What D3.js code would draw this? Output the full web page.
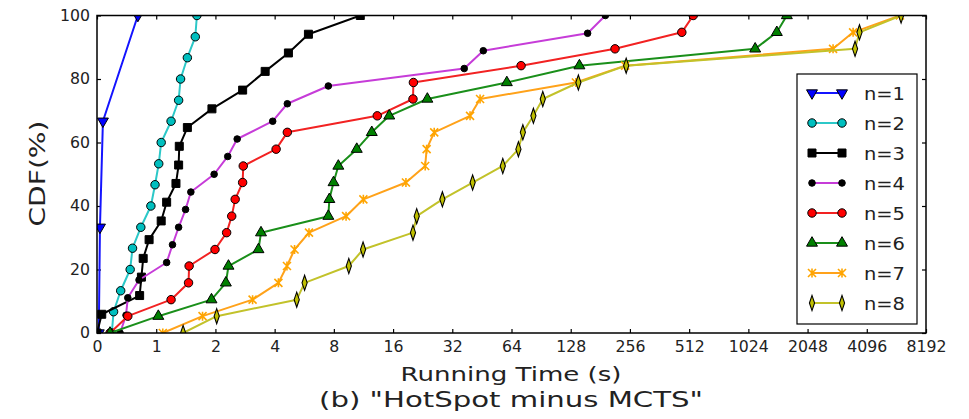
<!DOCTYPE html>
<html>
<head>
<meta charset="utf-8">
<script src="https://cdn.jsdelivr.net/npm/d3@7"></script>
<style>
  body { margin: 0; background: #fff; }
  text { font-family: "DejaVu Sans", sans-serif; }
</style>
</head>
<body>
<div id="chart"></div>
<script>
// tick labels
const xTicks = [0, 1, 2, 4, 8, 16, 32, 64, 128, 256, 512, 1024, 2048, 4096, 8192];
const yTicks = [0, 20, 40, 60, 80, 100];

const names = ["n=1", "n=2", "n=3", "n=4", "n=5", "n=6", "n=7", "n=8"];

// running time (s) and CDF (%) for every series
const time1 = [0.03, 0.05, 0.10, 0.69];
const cdf1 = [0, 33.3, 66.7, 100];

const time2 = [0.25, 0.28, 0.40, 0.56, 0.60, 0.74, 0.91, 0.98, 1.03, 1.06, 1.19, 1.30, 1.33, 1.44, 1.58, 1.61];
const cdf2 = [0, 6.7, 13.3, 20, 26.7, 33.3, 40, 46.7, 53.3, 60, 66.7, 73.3, 80, 86.7, 93.3, 100];

const time3 = [0.00, 0.08, 0.72, 0.75, 0.78, 0.88, 1.06, 1.13, 1.26, 1.30, 1.31, 1.44, 1.92, 2.75, 3.58, 4.70, 5.94, 10.9];
const cdf3 = [0, 5.9, 11.8, 17.6, 23.5, 29.4, 35.3, 41.2, 47.1, 52.9, 58.8, 64.7, 70.6, 76.5, 82.4, 88.2, 94.1, 100];

const time4 = [0.39, 0.49, 0.52, 0.71, 1.13, 1.21, 1.30, 1.41, 1.50, 1.97, 2.31, 2.58, 3.91, 4.64, 7.50, 36.8, 46.0, 156, 192];
const cdf4 = [0, 5.6, 11.1, 16.7, 22.2, 27.8, 33.3, 38.9, 44.4, 50, 55.6, 61.1, 66.7, 72.2, 77.8, 83.3, 88.9, 94.4, 100];

const time5 = [0.22, 0.52, 1.19, 1.46, 1.47, 1.99, 2.28, 2.42, 2.52, 2.75, 2.77, 4.07, 4.64, 13.3, 20.2, 20.3, 71.6, 215, 470, 537];
const cdf5 = [0, 5.3, 10.5, 15.8, 21.1, 26.3, 31.6, 36.8, 42.1, 47.4, 52.6, 57.9, 63.2, 68.4, 73.7, 78.9, 84.2, 89.5, 94.7, 100];

const time6 = [0.22, 1.025, 1.91, 2.26, 2.33, 3.31, 3.41, 7.50, 7.59, 7.97, 8.43, 10.46, 12.47, 15.3, 23.9, 60.6, 141.7, 1109, 1429, 1607];
const cdf6 = [0, 5.3, 10.5, 15.8, 21.1, 26.3, 31.6, 36.8, 42.1, 47.4, 52.6, 57.9, 63.2, 68.4, 73.7, 78.9, 84.2, 89.5, 94.7, 100];

const time7 = [1.08, 1.72, 3.09, 4.18, 4.62, 5.05, 5.98, 9.23, 11.3, 18.6, 23.3, 23.7, 25.9, 39.4, 44.3, 136, 242, 2760, 3490, 6040];
const cdf7 = [0, 5.3, 10.5, 15.8, 21.1, 26.3, 31.6, 36.8, 42.1, 47.4, 52.6, 57.9, 63.2, 68.4, 73.7, 78.9, 84.2, 89.5, 94.7, 100];

const time8 = [1.37, 2.03, 5.18, 5.68, 9.53, 11.26, 20.2, 21.1, 28.5, 40.6, 57.8, 69.4, 73.1, 82.7, 92.3, 140, 245, 3570, 3760, 6120];
const cdf8 = [0, 5.3, 10.5, 15.8, 21.1, 26.3, 31.6, 36.8, 42.1, 47.4, 52.6, 57.9, 63.2, 68.4, 73.7, 78.9, 84.2, 89.5, 94.7, 100];

const times = [time1, time2, time3, time4, time5, time6, time7, time8];
const cdfs = [cdf1, cdf2, cdf3, cdf4, cdf5, cdf6, cdf7, cdf8];

// line colour, marker shape and marker fill for each series
const styles = [
    { line: "#1414ff", shape: "tridown", fill: "#0000ff" },
    { line: "#2cc8c8", shape: "circle", fill: "#00bfbf" },
    { line: "#000000", shape: "square", fill: "#000000" },
    { line: "#c63cd8", shape: "dot", fill: "#000000" },
    { line: "#f22222", shape: "circle", fill: "#ff0000" },
    { line: "#1a8f1a", shape: "triangle", fill: "#008000" },
    { line: "#ffa21a", shape: "x", fill: "#ffa500" },
    { line: "#c2c22a", shape: "thindiamond", fill: "#bfbf00" }
];

// set the dimensions and margins of the graph
const margin = { top: 15.5, right: 43, bottom: 86, left: 97 },
    width = 969 - margin.left - margin.right,
    height = 419 - margin.top - margin.bottom;

const svg = d3.select("#chart")
    .append("svg")
    .attr("width", 969)
    .attr("height", 419)
    .append("g")
    .attr("transform", `translate(${margin.left}, ${margin.top})`);

// x axis: linear between 0 and 1, log2 above 1
const warp = v => v < 1 ? v : Math.log2(v) + 1;
const u = d3.scaleLinear()
    .domain([0, warp(8192)])
    .range([0, width]);
const x = v => u(warp(v));

const y = d3.scaleLinear()
    .domain([0, 100])
    .range([height, 0]);

const tickFont = 15;
const fitTicks = sel => sel.selectAll("text")
    .style("font-size", tickFont + "px")
    .attr("fill", "#222")
    .attr("textLength", function() { return this.textContent.length * 10; })
    .attr("lengthAdjust", "spacingAndGlyphs");

// bottom and left axes with inward ticks
svg.append("g")
    .attr("transform", `translate(0, ${height})`)
    .call(d3.axisBottom(u)
        .tickValues(xTicks.map(warp))
        .tickFormat((d, i) => xTicks[i])
        .tickSize(-4).tickSizeOuter(0).tickPadding(8))
    .call(fitTicks);

svg.append("g")
    .call(d3.axisLeft(y)
        .tickValues(yTicks)
        .tickSize(-4).tickSizeOuter(0).tickPadding(7))
    .call(fitTicks);

// top and right ticks without labels
svg.append("g")
    .call(d3.axisTop(u).tickValues(xTicks.map(warp)).tickFormat("").tickSize(-4).tickSizeOuter(0));
svg.append("g")
    .attr("transform", `translate(${width}, 0)`)
    .call(d3.axisRight(y).tickValues(yTicks).tickFormat("").tickSize(-4).tickSizeOuter(0));

svg.selectAll(".domain").remove();
svg.selectAll(".tick line").attr("stroke", "#000").attr("stroke-width", 1.2);

// clip everything to the plot box
svg.append("defs").append("clipPath")
    .attr("id", "clip")
    .append("rect")
    .attr("width", width)
    .attr("height", height);

const plot = svg.append("g").attr("clip-path", "url(#clip)");

const line = d3.line()
    .x(d => x(d.t))
    .y(d => y(d.c));

const seriesData = names.map((n, i) => times[i].map((t, j) => ({ t: t, c: cdfs[i][j] })));

// marker painter
function marker(g, shape, fill) {
    if (shape === "x") {
        g.append("path")
            .attr("d", "M-4,-4L4,4M-4,4L4,-4M0,-4.5L0,4.5")
            .attr("fill", "none")
            .attr("stroke", fill)
            .attr("stroke-width", 1.6);
        return;
    }
    let sym, size = 48, tr = "";
    if (shape === "circle") { sym = d3.symbolCircle; size = 56; }
    if (shape === "dot") { sym = d3.symbolCircle; size = 34; }
    if (shape === "square") { sym = d3.symbolSquare; size = 64; }
    if (shape === "triangle") { sym = d3.symbolTriangle; size = 52; }
    if (shape === "tridown") { sym = d3.symbolTriangle; size = 52; tr = "rotate(180)"; }
    if (shape === "thindiamond") { sym = d3.symbolDiamond; size = 60; tr = "scale(0.62,1.05)"; }
    g.append("path")
        .attr("d", d3.symbol(sym, size)())
        .attr("transform", tr)
        .attr("fill", fill)
        .attr("stroke", "#000")
        .attr("stroke-width", shape === "thindiamond" ? 1.6 : 1);
}

seriesData.forEach((data, i) => {
    const st = styles[i];
    plot.append("path")
        .datum(data)
        .attr("fill", "none")
        .attr("stroke", st.line)
        .attr("stroke-width", 2)
        .attr("stroke-linejoin", "round")
        .attr("d", line);

    plot.selectAll(null)
        .data(data)
        .join("g")
        .attr("transform", d => `translate(${x(d.t)}, ${y(d.c)})`)
        .each(function() { marker(d3.select(this), st.shape, st.fill); });
});

// frame
svg.append("rect")
    .attr("width", width)
    .attr("height", height)
    .attr("fill", "none")
    .attr("stroke", "#000")
    .attr("stroke-width", 1.5);

// legend
const legend = svg.append("g").attr("transform", `translate(${700}, ${58.5})`);
legend.append("rect")
    .attr("width", 120)
    .attr("height", 250)
    .attr("fill", "#fff")
    .attr("stroke", "#000")
    .attr("stroke-width", 1.2);

names.forEach((n, i) => {
    const st = styles[i];
    const row = legend.append("g").attr("transform", `translate(0, ${19 + i * 30})`);
    row.append("line")
        .attr("x1", 15).attr("x2", 45)
        .attr("stroke", st.line)
        .attr("stroke-width", 2);
    [15, 45].forEach(px => marker(row.append("g").attr("transform", `translate(${px}, 0)`), st.shape, st.fill));
    row.append("text")
        .attr("x", 67)
        .attr("y", 6.5)
        .style("font-size", "17.5px")
        .attr("fill", "#222")
        .attr("textLength", 41)
        .attr("lengthAdjust", "spacingAndGlyphs")
        .text(n);
});

// axis labels and caption
svg.append("text")
    .attr("text-anchor", "middle")
    .attr("x", 414)
    .attr("y", 365.5)
    .style("font-size", "20px")
    .attr("fill", "#222")
    .attr("textLength", 221)
    .attr("lengthAdjust", "spacingAndGlyphs")
    .text("Running Time (s)");

svg.append("text")
    .attr("text-anchor", "middle")
    .attr("x", 414)
    .attr("y", 391.5)
    .style("font-size", "21.5px")
    .attr("fill", "#222")
    .attr("textLength", 384)
    .attr("lengthAdjust", "spacingAndGlyphs")
    .text("(b) \"HotSpot minus MCTS\"");

svg.append("text")
    .attr("text-anchor", "middle")
    .attr("transform", `translate(${-52}, ${158}) rotate(-90)`)
    .style("font-size", "22px")
    .attr("fill", "#222")
    .attr("textLength", 106)
    .attr("lengthAdjust", "spacingAndGlyphs")
    .text("CDF(%)");
</script>
</body>
</html>
